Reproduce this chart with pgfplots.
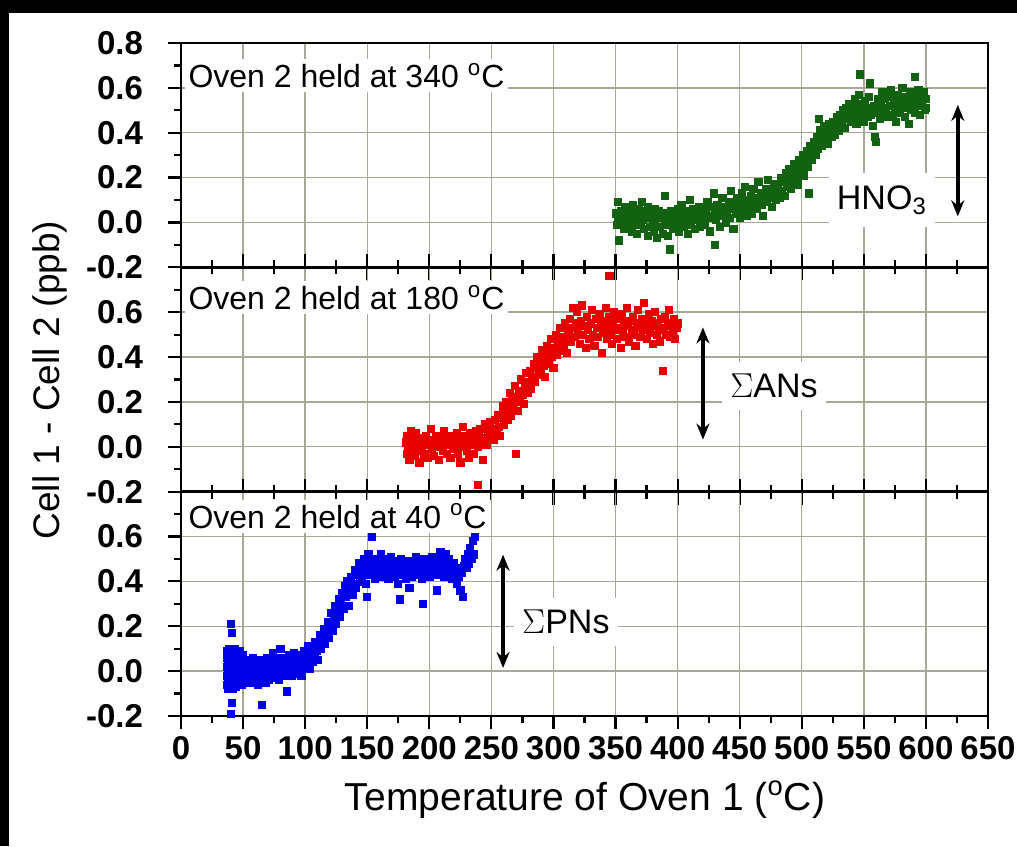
\documentclass[border=0pt]{standalone}
\usepackage{fontspec}
\setmainfont{Liberation Sans}
\usepackage{pgfplots}
\pgfplotsset{compat=1.18}
\usetikzlibrary{arrows.meta}

\definecolor{ogreen}{RGB}{18,98,18}
\definecolor{ored}{RGB}{232,0,0}
\definecolor{oblue}{RGB}{0,0,232}
\definecolor{gridc}{RGB}{168,168,150}

\pgfplotsset{
  panel/.style={
    scale only axis, width=403.5pt, height=112.17pt,
    xmin=0, xmax=650, ymin=-0.2, ymax=0.8,
    xtick={0,50,...,650}, minor x tick num=1,
    ytick={-0.2,0,0.2,0.4,0.6,0.8}, minor y tick num=1,
    yticklabels={-0.2,0.0,0.2,0.4,0.6,},
    xticklabels={},
    grid=major, major grid style={gridc, line width=0.7pt},
    axis line style={line width=1.2pt},
    every tick/.style={black, line width=1.1pt},
    major tick length=6.5pt, minor tick length=3.5pt,
    tick align=outside, ytick pos=left,
    yticklabel style={font=\fontsize{16.5}{18}\selectfont\bfseries, xshift=-9pt},
    xticklabel style={font=\fontsize{16.5}{18}\selectfont\bfseries},
  },
  dots/.style={only marks, mark=square*, mark size=1.8pt},
}
\tikzset{
  lbl/.style={fill=white, inner sep=2pt, font=\fontsize{16}{19}\selectfont},
  tag/.style={fill=white, inner xsep=4pt, inner ysep=6pt, font=\fontsize{17}{20}\selectfont},
  dbl/.style={{Stealth[length=8pt,width=6.5pt]}-{Stealth[length=8pt,width=6.5pt]}, line width=2pt, black},
}

\begin{document}
\begin{tikzpicture}
\path[fill=white] (0,0) rectangle (508.5pt,423pt);
\path[fill=black] (0,416.5pt) rectangle (508.5pt,423pt);
\path[fill=black] (0,0) rectangle (4.5pt,423pt);

% top panel: oven 2 at 340 C
\begin{axis}[panel, at={(90.5pt,289.33pt)}, anchor=south west,
    xtick pos=bottom, yticklabels={-0.2,0.0,0.2,0.4,0.6,0.8}]
\addplot[dots, color=ogreen] coordinates {
(350,0.04)(351,-0.01)(352,0.09)(352,0.02)(353,-0.08)(354,0.05)(355,0.00)(356,0.03)(357,-0.03)(358,0.07)
(358,0.01)(359,0.04)(360,-0.02)(361,0.06)(362,0.02)(363,-0.04)(364,0.08)(364,0.03)(365,0.00)(366,0.05)
(367,-0.05)(368,0.02)(369,0.06)(370,-0.01)(370,0.04)(371,0.09)(372,0.01)(373,-0.03)(374,0.05)(375,0.02)
(376,-0.06)(376,0.07)(377,0.03)(378,-0.02)(379,0.04)(380,0.00)(381,-0.04)(382,0.06)(382,0.01)(383,-0.07)
(384,0.03)(385,0.05)(386,-0.02)(387,0.02)(388,-0.05)(389,0.04)(390,0.12)(390,-0.01)(391,0.02)(392,-0.06)
(393,0.03)(394,-0.12)(394,0.00)(395,0.05)(396,-0.03)(397,0.01)(398,0.04)(399,-0.02)(400,0.06)(400,0.01)
(401,-0.04)(402,0.03)(403,0.08)(404,0.00)(405,-0.02)(406,0.05)(407,0.02)(408,-0.05)(409,0.04)(410,0.10)
(410,0.01)(411,-0.01)(412,0.06)(413,0.03)(414,-0.03)(415,0.05)(416,0.01)(417,0.07)(418,-0.02)(419,0.04)
(420,0.02)(421,0.06)(422,-0.01)(423,0.04)(424,0.09)(425,0.02)(426,-0.04)(427,0.07)(428,0.03)(429,0.13)
(430,-0.10)(430,0.05)(431,0.01)(432,0.08)(433,0.04)(434,-0.02)(435,0.06)(436,0.11)(437,0.03)(438,0.07)
(439,0.00)(440,0.05)(441,0.09)(442,0.02)(443,0.14)(444,0.06)(445,-0.03)(446,0.08)(447,0.04)(448,0.11)
(449,0.07)(450,0.02)(451,0.09)(452,0.13)(453,0.05)(454,0.16)(455,0.08)(456,0.03)(457,0.10)(458,0.07)
(459,0.12)(460,0.04)(461,0.15)(462,0.09)(463,0.11)(464,0.06)(465,0.18)(466,0.10)(467,0.13)(468,0.08)
(469,0.03)(470,0.12)(471,0.15)(472,0.09)(473,0.19)(474,0.11)(475,0.14)(476,0.07)(477,0.12)(478,0.17)
(479,0.10)(480,0.13)(481,0.16)(482,0.11)(483,0.20)(484,0.14)(485,0.18)(486,0.12)(487,0.22)(488,0.16)
(489,0.19)(490,0.24)(491,0.15)(492,0.21)(493,0.18)(494,0.26)(495,0.20)(496,0.23)(497,0.17)(498,0.28)
(499,0.22)(500,0.25)(501,0.30)(502,0.21)(503,0.27)(504,0.32)(505,0.25)(506,0.13)(506,0.29)(507,0.34)
(508,0.28)(509,0.31)(510,0.36)(511,0.30)(512,0.38)(513,0.33)(514,0.46)(514,0.36)(515,0.41)(516,0.34)
(517,0.39)(518,0.43)(519,0.37)(520,0.41)(521,0.35)(522,0.44)(523,0.40)(524,0.38)(525,0.45)(526,0.42)
(527,0.39)(528,0.47)(529,0.43)(530,0.41)(531,0.48)(532,0.44)(533,0.50)(534,0.46)(535,0.42)(536,0.51)
(537,0.47)(538,0.53)(539,0.49)(540,0.45)(541,0.52)(542,0.48)(543,0.55)(544,0.44)(545,0.50)(546,0.57)
(547,0.66)(547,0.47)(548,0.53)(549,0.49)(550,0.45)(551,0.54)(552,0.50)(553,0.47)(554,0.56)(555,0.62)
(555,0.51)(556,0.48)(557,0.43)(558,0.52)(559,0.38)(560,0.49)(560,0.36)(561,0.55)(562,0.50)(563,0.46)
(564,0.53)(565,0.58)(566,0.49)(567,0.55)(568,0.51)(569,0.47)(570,0.56)(571,0.52)(572,0.59)(573,0.48)
(574,0.54)(575,0.50)(576,0.45)(577,0.57)(578,0.52)(579,0.49)(580,0.55)(581,0.60)(582,0.51)(583,0.47)
(584,0.56)(585,0.53)(586,0.44)(587,0.58)(588,0.50)(589,0.54)(590,0.57)(591,0.65)(591,0.49)(592,0.55)
(593,0.52)(594,0.59)(595,0.48)(596,0.56)(597,0.53)(598,0.58)(599,0.50)(600,0.55)(600,0.51)
};
\node[lbl, anchor=west] at (axis cs:2.5,0.655) {Oven 2 held at 340 \textsuperscript{o}C};
\node[tag] at (axis cs:564.5,0.10) {HNO\textsubscript{3}};
\draw[dbl] (axis cs:625.7,0.524) -- (axis cs:625.7,0.027);
\end{axis}

% middle panel: oven 2 at 180 C
\begin{axis}[panel, at={(90.5pt,177.17pt)}, anchor=south west, xtick pos=both]
\addplot[dots, color=ored] coordinates {
(181,0.02)(182,-0.03)(182,0.05)(183,0.00)(184,-0.06)(184,0.03)(185,0.07)(186,-0.01)(187,0.04)(188,-0.04)
(188,0.01)(189,0.06)(190,-0.02)(191,0.02)(192,-0.07)(193,0.04)(194,0.00)(195,0.03)(196,-0.03)(197,0.05)
(198,0.01)(199,-0.05)(200,0.03)(201,0.08)(202,-0.01)(203,0.02)(204,-0.04)(205,0.05)(206,0.00)(207,0.03)
(208,-0.06)(209,0.01)(210,0.04)(211,-0.02)(212,0.07)(213,0.02)(214,-0.03)(215,0.01)(216,0.05)(217,-0.05)
(218,0.02)(219,-0.01)(220,0.04)(221,0.00)(222,0.06)(223,-0.03)(224,0.02)(225,-0.07)(226,0.03)(227,0.09)
(228,0.00)(229,0.05)(230,-0.02)(231,0.03)(232,-0.05)(233,0.06)(234,0.01)(235,0.04)(236,-0.03)(237,0.02)
(238,0.07)(239,-0.17)(239,0.00)(240,0.05)(241,0.08)(242,0.02)(243,-0.06)(244,0.04)(245,0.10)(246,0.01)
(247,0.06)(248,0.03)(249,0.11)(250,0.05)(251,0.08)(252,0.03)(253,0.12)(254,0.07)(255,0.14)(256,0.09)
(257,0.05)(258,0.13)(259,0.18)(260,0.10)(261,0.15)(262,0.20)(263,0.12)(264,0.17)(265,0.24)(266,0.14)
(267,0.21)(268,0.18)(269,0.27)(270,-0.03)(270,0.22)(271,0.16)(272,0.25)(273,0.20)(274,0.30)(275,0.23)
(276,0.19)(277,0.27)(278,0.33)(279,0.24)(280,0.29)(281,0.34)(282,0.26)(283,0.31)(284,0.37)(285,0.29)
(286,0.35)(287,0.40)(288,0.32)(289,0.38)(290,0.34)(291,0.43)(292,0.36)(293,0.31)(294,0.39)(295,0.45)
(296,0.37)(297,0.42)(298,0.48)(299,0.40)(300,0.35)(301,0.44)(302,0.50)(303,0.41)(304,0.47)(305,0.53)
(306,0.43)(307,0.49)(308,0.45)(309,0.55)(310,0.48)(311,0.42)(312,0.51)(313,0.57)(314,0.47)(315,0.53)
(316,0.62)(317,0.49)(318,0.55)(319,0.60)(320,0.51)(321,0.46)(322,0.56)(323,0.63)(324,0.50)(325,0.54)
(326,0.44)(327,0.58)(328,0.52)(329,0.48)(330,0.55)(331,0.61)(332,0.50)(333,0.45)(334,0.57)(335,0.53)
(336,0.49)(337,0.59)(338,0.54)(339,0.42)(340,0.51)(341,0.56)(342,0.62)(343,0.48)(344,0.53)(345,0.76)
(345,0.58)(346,0.50)(347,0.46)(348,0.55)(349,0.60)(350,0.52)(351,0.48)(352,0.57)(353,0.53)(354,0.44)
(355,0.59)(356,0.51)(357,0.55)(358,0.49)(359,0.62)(360,0.54)(361,0.47)(362,0.56)(363,0.52)(364,0.58)
(365,0.50)(366,0.45)(367,0.55)(368,0.61)(369,0.53)(370,0.49)(371,0.57)(372,0.52)(373,0.64)(374,0.55)
(375,0.48)(376,0.53)(377,0.59)(378,0.51)(379,0.56)(380,0.46)(381,0.54)(382,0.60)(383,0.50)(384,0.55)
(385,0.52)(386,0.47)(387,0.57)(388,0.34)(389,0.53)(390,0.58)(391,0.50)(392,0.55)(393,0.61)(394,0.49)
(395,0.54)(396,0.51)(397,0.57)(398,0.48)(399,0.53)(400,0.55)
};
\node[lbl, anchor=west] at (axis cs:2.5,0.665) {Oven 2 held at 180 \textsuperscript{o}C};
\node[tag] at (axis cs:477.6,0.27) {$\Sigma$ANs};
\draw[dbl] (axis cs:420.4,0.532) -- (axis cs:420.4,0.032);
\end{axis}

% bottom panel: oven 2 at 40 C
\begin{axis}[panel, at={(90.5pt,65pt)}, anchor=south west, xtick pos=both,
    xticklabels={0,50,100,150,200,250,300,350,400,450,500,550,600,650}]
\addplot[dots, color=oblue] coordinates {
(37,-0.06)(37,-0.02)(37,0.02)(37,0.06)(37,0.09)(38,-0.08)(38,-0.04)(38,0.00)(38,0.04)(38,0.08)
(39,-0.05)(39,-0.01)(39,0.03)(39,0.07)(39,0.10)(40,-0.07)(40,-0.03)(40,0.01)(40,0.05)(40,0.09)
(40,0.21)(40,-0.19)(41,-0.06)(41,-0.02)(41,0.02)(41,0.06)(41,0.17)(41,-0.14)(42,-0.08)(42,-0.04)
(42,0.00)(42,0.04)(42,0.08)(43,-0.05)(43,-0.01)(43,0.03)(43,0.07)(43,0.10)(44,-0.07)(44,-0.03)
(44,0.01)(44,0.05)(44,0.09)(45,-0.06)(45,-0.02)(45,0.02)(45,0.06)(46,-0.04)(46,0.00)(46,0.04)
(46,0.08)(47,-0.05)(47,-0.01)(47,0.03)(47,0.09)(48,-0.03)(48,0.02)(48,0.06)(49,-0.06)(49,0.00)
(49,0.04)(50,-0.02)(50,0.03)(50,0.07)(51,-0.04)(51,0.01)(52,0.05)(52,-0.01)(53,0.02)(53,-0.05)
(54,0.00)(55,0.04)(55,-0.03)(56,0.01)(57,-0.05)(57,0.03)(58,0.06)(58,-0.01)(59,0.02)(60,-0.04)
(60,0.05)(61,0.00)(62,0.03)(62,-0.06)(63,0.01)(64,-0.02)(64,0.05)(65,-0.15)(65,0.02)(66,-0.03)
(67,0.04)(67,0.00)(68,-0.05)(68,0.02)(69,0.06)(70,-0.01)(70,0.03)(71,-0.04)(72,0.01)(72,0.05)
(73,-0.02)(74,0.03)(74,0.08)(75,-0.03)(75,0.01)(76,0.04)(77,-0.01)(77,0.06)(78,0.02)(79,-0.04)
(79,0.03)(80,0.10)(80,0.00)(81,0.05)(82,-0.02)(82,0.02)(83,0.06)(84,-0.01)(84,0.03)(85,-0.09)
(85,0.01)(86,0.04)(87,0.00)(87,0.07)(88,0.02)(89,-0.02)(89,0.05)(90,0.01)(91,0.04)(91,0.08)
(92,-0.01)(93,0.03)(93,0.06)(94,0.00)(95,0.04)(95,0.02)(96,0.07)(97,-0.02)(97,0.03)(98,0.05)
(99,0.01)(99,0.09)(100,0.04)(101,0.02)(101,0.07)(102,0.11)(102,0.03)(103,0.06)(104,0.01)(104,0.05)
(105,0.08)(106,0.04)(107,0.10)(108,0.06)(108,0.13)(109,0.09)(110,0.05)(111,0.12)(112,0.16)(113,0.10)
(114,0.14)(115,0.19)(116,0.12)(117,0.17)(118,0.22)(119,0.15)(120,0.20)(121,0.26)(122,0.18)(123,0.24)
(124,0.29)(125,0.21)(126,0.27)(127,0.32)(128,0.24)(129,0.30)(130,0.35)(131,0.28)(132,0.38)(133,0.33)
(134,0.40)(135,0.29)(136,0.36)(137,0.42)(138,0.34)(139,0.39)(140,0.45)(141,0.37)(142,0.43)(143,0.48)
(144,0.40)(145,0.46)(146,0.42)(147,0.50)(148,0.44)(149,0.39)(150,0.47)(150,0.33)(151,0.52)(152,0.43)
(153,0.48)(154,0.60)(154,0.45)(155,0.50)(156,0.41)(157,0.47)(158,0.43)(159,0.49)(160,0.45)(161,0.52)
(162,0.42)(163,0.47)(164,0.44)(165,0.50)(166,0.46)(167,0.41)(168,0.48)(169,0.51)(170,0.44)(171,0.47)
(172,0.42)(173,0.49)(174,0.45)(175,0.39)(176,0.32)(176,0.46)(177,0.50)(178,0.43)(179,0.48)(180,0.45)
(181,0.41)(182,0.47)(183,0.44)(184,0.37)(184,0.49)(185,0.46)(186,0.42)(187,0.48)(188,0.45)(189,0.51)
(190,0.43)(191,0.47)(192,0.44)(193,0.49)(194,0.41)(195,0.30)(195,0.46)(196,0.50)(197,0.44)(198,0.48)
(199,0.45)(200,0.42)(201,0.47)(202,0.51)(203,0.44)(204,0.48)(205,0.45)(206,0.36)(206,0.50)(207,0.43)
(208,0.47)(209,0.53)(210,0.45)(211,0.49)(212,0.42)(213,0.52)(214,0.46)(215,0.44)(216,0.50)(217,0.47)
(218,0.41)(219,0.45)(220,0.48)(221,0.43)(222,0.39)(223,0.46)(224,0.42)(225,0.36)(226,0.44)(227,0.33)
(228,0.47)(229,0.50)(230,0.46)(231,0.52)(232,0.48)(233,0.55)(234,0.50)(235,0.58)(236,0.52)(237,0.60)
};
\node[lbl, anchor=west] at (axis cs:2.5,0.69) {Oven 2 held at 40 \textsuperscript{o}C};
\node[tag] at (axis cs:310,0.22) {$\Sigma$PNs};
\draw[dbl] (axis cs:259.4,0.519) -- (axis cs:259.4,0.014);
\end{axis}

\node[rotate=90, font=\fontsize{18.5}{22}\selectfont] at (25pt,233pt) {Cell 1 - Cell 2 (ppb)};
\node[font=\fontsize{19.5}{23}\selectfont] at (292.5pt,23pt) {Temperature of Oven 1 (\textsuperscript{o}C)};

\pgfresetboundingbox
\path (0,0) rectangle (508.5pt,423pt);
\end{tikzpicture}
\end{document}
